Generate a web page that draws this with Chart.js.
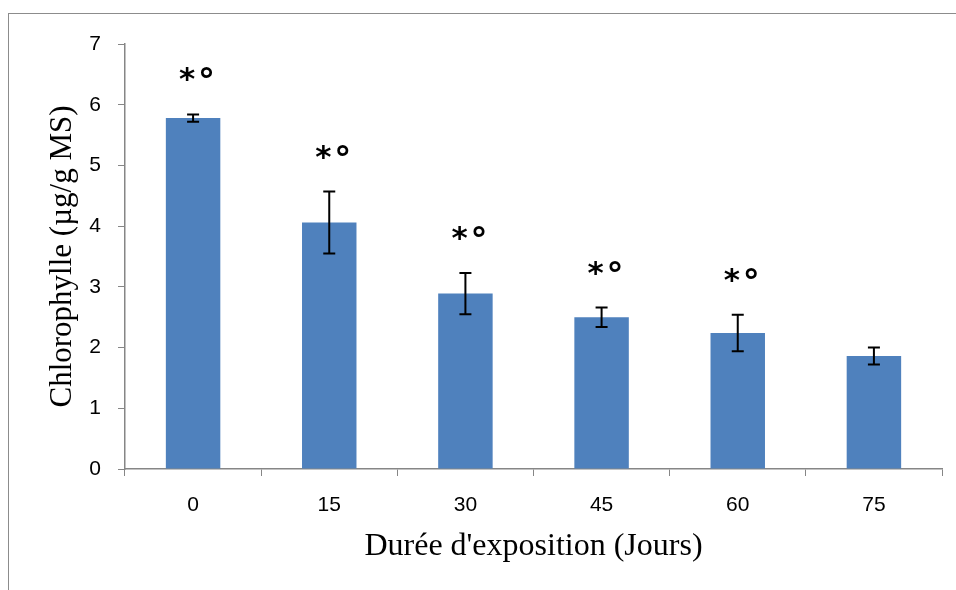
<!DOCTYPE html>
<html>
<head>
<meta charset="utf-8">
<script src="https://cdn.jsdelivr.net/npm/chart.js@4"></script>
<style>
  html, body { margin: 0; padding: 0; background: #fff; overflow: hidden; }
  #frame { position: absolute; left: 8px; top: 13px; width: 1200px; height: 1000px; border: 1px solid #8c8c8c; box-sizing: border-box; }
  #chart { position: absolute; left: 0; top: 0; }
</style>
</head>
<body>
<div id="frame"></div>
<canvas id="chart" width="956" height="590"></canvas>
<script>
const days = ['0', '15', '30', '45', '60', '75'];
const chlorophyll = [5.78, 4.06, 2.89, 2.50, 2.24, 1.86];
const errors = [0.06, 0.51, 0.34, 0.16, 0.30, 0.14];
const marked = [true, true, true, true, true, false];

// draw a glyph so that its ink box starts at (left, top)
function glyphAt(ctx, text, font, left, top) {
  ctx.font = font;
  ctx.textAlign = 'left';
  ctx.textBaseline = 'alphabetic';
  const m = ctx.measureText(text);
  ctx.fillText(text, left + m.actualBoundingBoxLeft, top + m.actualBoundingBoxAscent);
}

// error bars + significance marks
const errorBars = {
  id: 'errorBars',
  afterDatasetsDraw(chart) {
    const ctx = chart.ctx;
    const y = chart.scales.y;
    const meta = chart.getDatasetMeta(0);
    ctx.save();
    ctx.strokeStyle = '#000';
    ctx.fillStyle = '#000';
    ctx.lineWidth = 2;
    meta.data.forEach((bar, i) => {
      const top = y.getPixelForValue(chlorophyll[i] + errors[i]);
      const bot = y.getPixelForValue(chlorophyll[i] - errors[i]);
      ctx.beginPath();
      ctx.moveTo(bar.x, top); ctx.lineTo(bar.x, bot);
      ctx.moveTo(bar.x - 6, top); ctx.lineTo(bar.x + 6, top);
      ctx.moveTo(bar.x - 6, bot); ctx.lineTo(bar.x + 6, bot);
      ctx.stroke();
      if (marked[i]) {
        glyphAt(ctx, '*', 'bold 31px "DejaVu Sans"', bar.x - 14, top - 47);
        glyphAt(ctx, '°', 'bold 34px "DejaVu Sans"', bar.x + 7, top - 47);
      }
    });
    ctx.restore();
  }
};

new Chart(document.getElementById('chart'), {
  type: 'bar',
  data: {
    labels: days,
    datasets: [{
      data: chlorophyll,
      backgroundColor: '#4F81BD',
      barPercentage: 0.4,
      categoryPercentage: 1
    }]
  },
  options: {
    responsive: false,
    animation: false,
    layout: { padding: { top: 44, right: 14, left: 0, bottom: 0 } },
    plugins: { legend: { display: false }, tooltip: { enabled: false } },
    scales: {
      x: {
        grid: { drawOnChartArea: false, drawTicks: true, tickLength: 7, color: '#868686', offset: true },
        border: { color: '#868686', width: 1.5 },
        ticks: { color: '#000', font: { family: 'Liberation Sans', size: 21 }, padding: 17 },
        title: { display: true, text: "Durée d'exposition (Jours)", color: '#000',
                 font: { family: 'Liberation Serif', size: 32 }, padding: { top: 0, bottom: 24 } },
        afterFit: s => { s.height = 121; }
      },
      y: {
        min: 0, max: 7,
        grid: { drawOnChartArea: false, drawTicks: true, tickLength: 7, color: '#868686' },
        border: { color: '#868686', width: 1.5 },
        ticks: { stepSize: 1, color: '#000', font: { family: 'Liberation Sans', size: 21 }, padding: 17 },
        title: { display: true, text: 'Chlorophylle (µg/g MS)', color: '#000',
                 font: { family: 'Liberation Serif', size: 31 }, padding: { top: 44, bottom: 0 } },
        afterFit: s => { s.width = 125; }
      }
    }
  },
  plugins: [errorBars]
});
</script>
</body>
</html>
